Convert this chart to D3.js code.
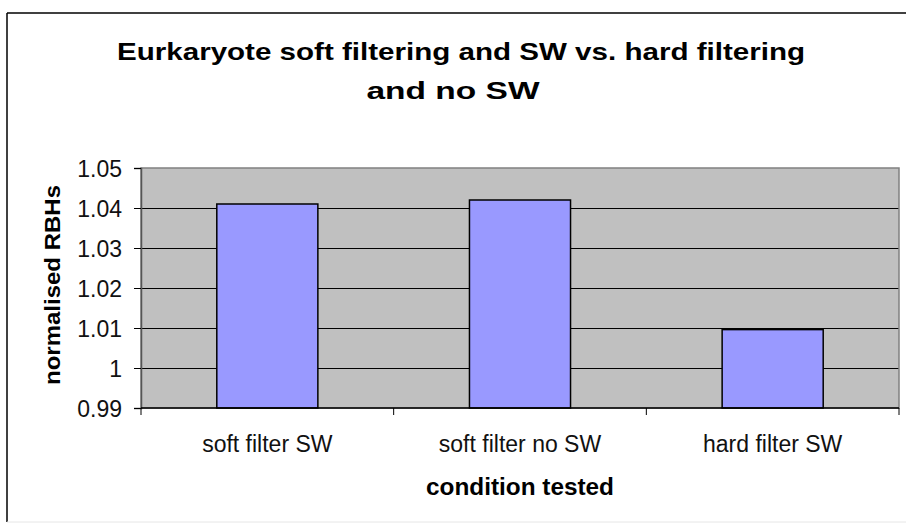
<!DOCTYPE html>
<html>
<head>
<meta charset="utf-8">
<script src="https://cdn.jsdelivr.net/npm/d3@7"></script>
<style>
  html, body { margin: 0; padding: 0; background: #ffffff; }
  svg { display: block; font-family: "Liberation Sans", Arial, sans-serif; }
</style>
</head>
<body>
<svg id="chart" width="906" height="525"></svg>
<script>
const categories = ["soft filter SW", "soft filter no SW", "hard filter SW"];
const values = [1.041, 1.042, 1.0096];
const yTicks = [0.99, 1.00, 1.01, 1.02, 1.03, 1.04, 1.05];
const yTickLabels = ["0.99", "1", "1.01", "1.02", "1.03", "1.04", "1.05"];
const titleLines = ["Eurkaryote soft filtering and SW vs. hard filtering", "and no SW"];
const xTitle = "condition tested";
const yTitle = "normalised RBHs";

const svg = d3.select("#chart");

// outer chart frame
svg.append("line").attr("x1", 7).attr("y1", 13).attr("x2", 7).attr("y2", 522)
  .attr("stroke", "#000").attr("stroke-width", 1.5);
svg.append("line").attr("x1", 7).attr("y1", 13).attr("x2", 906).attr("y2", 13)
  .attr("stroke", "#000").attr("stroke-width", 1.5);
svg.append("line").attr("x1", 7).attr("y1", 522).attr("x2", 906).attr("y2", 522)
  .attr("stroke", "#e6e6e6").attr("stroke-width", 1);

const plot = { left: 141, right: 899, top: 168, bottom: 408 };

const x = d3.scaleBand()
  .domain(categories)
  .range([plot.left, plot.right])
  .paddingInner(0.6)
  .paddingOuter(0.3);

const y = d3.scaleLinear()
  .domain([0.99, 1.05])
  .range([plot.bottom, plot.top]);

// plot background
svg.append("rect")
  .attr("x", plot.left).attr("y", plot.top)
  .attr("width", plot.right - plot.left).attr("height", plot.bottom - plot.top)
  .attr("fill", "#c0c0c0");

// gridlines
svg.append("g").selectAll("line")
  .data(yTicks.filter(t => t > 0.99 + 1e-9 && t < 1.05 - 1e-9))
  .join("line")
  .attr("x1", plot.left).attr("x2", plot.right)
  .attr("y1", d => Math.round(y(d)) + 0.5).attr("y2", d => Math.round(y(d)) + 0.5)
  .attr("stroke", "#000").attr("stroke-width", 1);

// plot border (grey)
svg.append("rect")
  .attr("x", plot.left).attr("y", plot.top)
  .attr("width", plot.right - plot.left).attr("height", plot.bottom - plot.top)
  .attr("fill", "none").attr("stroke", "#808080").attr("stroke-width", 1.5);

// bars
svg.append("g").selectAll("rect")
  .data(categories.map((c, i) => ({ c, v: values[i] })))
  .join("rect")
  .attr("x", d => x(d.c))
  .attr("y", d => y(d.v))
  .attr("width", x.bandwidth())
  .attr("height", d => y(0.99) - y(d.v))
  .attr("fill", "#9999ff")
  .attr("stroke", "#000").attr("stroke-width", 1.5);

// y axis
const yAxis = d3.axisLeft(y)
  .tickValues(yTicks)
  .tickFormat((d, i) => yTickLabels[i])
  .tickSize(7)
  .tickPadding(12);
const gy = svg.append("g").attr("transform", `translate(${plot.left},0)`).call(yAxis);
gy.select(".domain").attr("stroke", "#555").attr("stroke-width", 1.5);
gy.selectAll(".tick line").attr("stroke", "#000");
gy.selectAll(".tick text")
  .attr("font-family", "'Liberation Sans', Arial, sans-serif")
  .attr("font-size", 23).attr("fill", "#111").attr("dy", "0.36em");

// x axis with ticks at category boundaries
const gx = svg.append("g").attr("transform", `translate(0,${plot.bottom})`);
gx.append("line").attr("x1", plot.left).attr("x2", plot.right)
  .attr("y1", 0).attr("y2", 0).attr("stroke", "#000").attr("stroke-width", 1.5);
const boundaries = [0, 1, 2, 3].map(i => plot.left + (plot.right - plot.left) * i / categories.length);
gx.selectAll("line.tk").data(boundaries).join("line").attr("class", "tk")
  .attr("x1", d => d).attr("x2", d => d).attr("y1", 0).attr("y2", 7)
  .attr("stroke", "#000").attr("stroke-width", 1);
gx.selectAll("text.lbl").data(categories).join("text").attr("class", "lbl")
  .attr("x", d => x(d) + x.bandwidth() / 2)
  .attr("y", 44)
  .attr("text-anchor", "middle")
  .attr("font-size", 23).attr("fill", "#111")
  .text(d => d);

// title
const titleX = [461, 453];
const titleY = [60, 99];
const titleW = [688, 173];
svg.append("g").selectAll("text").data(titleLines).join("text")
  .attr("x", (d, i) => titleX[i]).attr("y", (d, i) => titleY[i])
  .attr("text-anchor", "middle")
  .attr("font-size", 24).attr("font-weight", "bold").attr("fill", "#000")
  .attr("textLength", (d, i) => titleW[i])
  .attr("lengthAdjust", "spacingAndGlyphs")
  .text(d => d);

// axis titles
svg.append("text")
  .attr("x", 520).attr("y", 495)
  .attr("text-anchor", "middle")
  .attr("font-size", 23).attr("font-weight", "bold").attr("fill", "#000")
  .attr("textLength", 188).attr("lengthAdjust", "spacingAndGlyphs")
  .text(xTitle);

svg.append("text")
  .attr("transform", "translate(60,285) rotate(-90)")
  .attr("text-anchor", "middle")
  .attr("font-size", 22).attr("font-weight", "bold").attr("fill", "#000")
  .attr("textLength", 200).attr("lengthAdjust", "spacingAndGlyphs")
  .text(yTitle);
</script>
</body>
</html>
